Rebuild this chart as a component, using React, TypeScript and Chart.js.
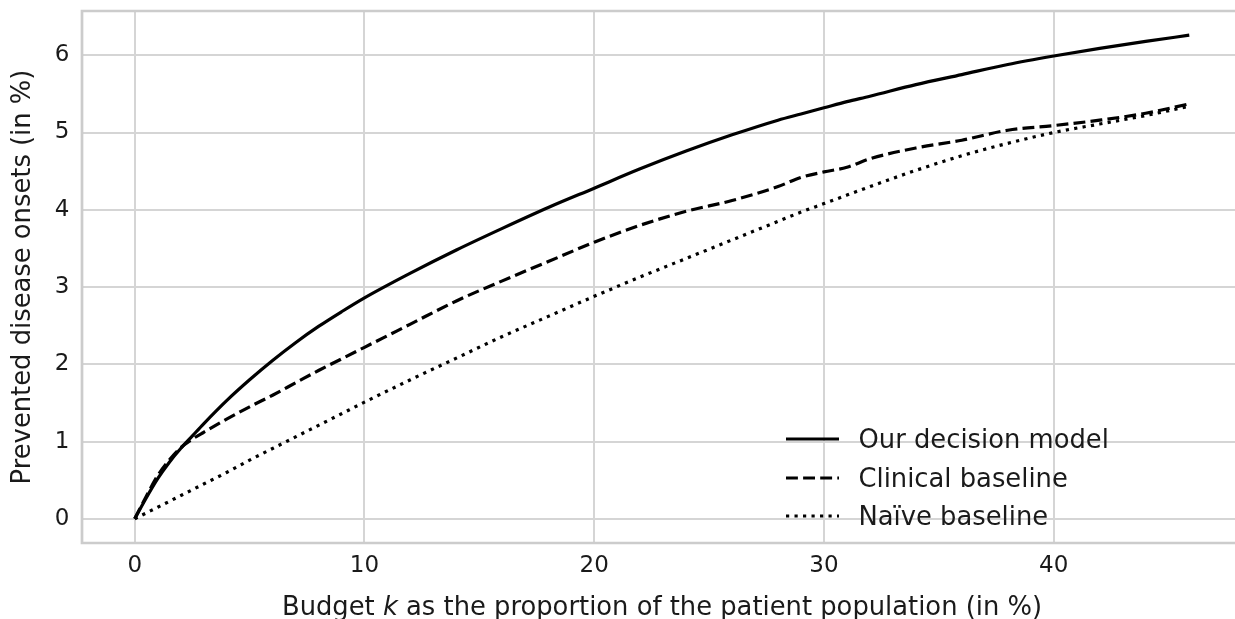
import React, { useEffect, useRef } from 'react';
import { Chart, registerables } from 'chart.js';

Chart.register(...registerables);

// ---- data ----
const budget = [0, 0.5, 1, 1.5, 2, 2.5, 3, 4, 5, 6, 7, 8, 9, 10, 12, 14, 16, 18, 20, 22, 24, 26, 28, 29, 30, 31, 32, 34, 36, 38, 40, 42, 44, 45.9];
const ourModel = [0, 0.27, 0.52, 0.73, 0.91, 1.07, 1.23, 1.53, 1.80, 2.05, 2.28, 2.49, 2.68, 2.86, 3.18, 3.48, 3.76, 4.03, 4.28, 4.53, 4.76, 4.97, 5.16, 5.24, 5.32, 5.40, 5.47, 5.62, 5.75, 5.88, 5.99, 6.09, 6.18, 6.26];
const clinical = [0, 0.29, 0.56, 0.76, 0.92, 1.03, 1.12, 1.29, 1.45, 1.60, 1.76, 1.92, 2.07, 2.22, 2.52, 2.82, 3.08, 3.33, 3.58, 3.80, 3.98, 4.12, 4.30, 4.42, 4.49, 4.55, 4.66, 4.80, 4.90, 5.03, 5.09, 5.16, 5.25, 5.37];
const naive = [0, 0.075, 0.15, 0.225, 0.30, 0.375, 0.45, 0.60, 0.76, 0.91, 1.06, 1.21, 1.36, 1.51, 1.80, 2.08, 2.36, 2.62, 2.88, 3.13, 3.37, 3.61, 3.85, 3.97, 4.08, 4.19, 4.30, 4.51, 4.70, 4.86, 5.00, 5.11, 5.22, 5.34];
const seriesLabels = ['Our decision model', 'Clinical baseline', 'Naïve baseline'];
const xTicks = [0, 10, 20, 30, 40];
const yTicks = [0, 1, 2, 3, 4, 5, 6];
const xTitleParts = ['Budget ', 'k', ' as the proportion of the patient population (in %)'];
const yTitle = 'Prevented disease onsets (in %)';

const FONT = 'DejaVu Sans';
const TEXT = '#1a1a1a';
const LINE = '#000000';
const DASHES = [[], [11.9, 5.2], [3.2, 5.3]];
const LW = 3.2;
const LABEL_FS = 25.8;
const TICK_FS = 23;

export default function App() {
  const ref = useRef<HTMLCanvasElement>(null);

  useEffect(() => {
    const canvas = ref.current;
    if (!canvas) return;

    const pts = (ys: number[]) => budget.map((x, i) => ({ x, y: ys[i] }));
    const all = [ourModel, clinical, naive];

    const xMaxData = Math.max(...budget);
    const yMaxData = Math.max(...ourModel, ...clinical, ...naive);
    const xPad = xMaxData * 0.05;
    const yPad = yMaxData * 0.05;

    const decor = {
      id: 'decor',
      beforeDatasetsDraw(chart: any) {
        const { ctx, chartArea: a } = chart;
        ctx.save();
        ctx.strokeStyle = '#cccccc';
        ctx.lineWidth = 2.7;
        ctx.beginPath();
        ctx.moveTo(a.right + 5, a.top);
        ctx.lineTo(a.left, a.top);
        ctx.lineTo(a.left, a.bottom);
        ctx.lineTo(a.right + 5, a.bottom);
        ctx.stroke();
        ctx.restore();
      },
      afterDatasetsDraw(chart: any) {
        const { ctx, chartArea: a } = chart;
        ctx.save();
        // legend
        const fs = LABEL_FS;
        ctx.font = `${fs}px "${FONT}"`;
        ctx.fillStyle = TEXT;
        ctx.textBaseline = 'alphabetic';
        ctx.textAlign = 'left';
        const lx0 = a.left + 704;
        const lx1 = lx0 + 53;
        const tx = a.left + 776.5;
        const rowY = [a.bottom - 104, a.bottom - 65, a.bottom - 27];
        seriesLabels.forEach((lab, i) => {
          const y = rowY[i];
          ctx.save();
          ctx.strokeStyle = LINE;
          ctx.lineWidth = LW;
          ctx.lineCap = 'butt';
          ctx.setLineDash(DASHES[i]);
          ctx.beginPath();
          ctx.moveTo(lx0, y);
          ctx.lineTo(lx1, y);
          ctx.stroke();
          ctx.restore();
          ctx.fillText(lab, tx, y + 8.5);
        });
        // x title with italic k
        const fNormal = `${fs}px "${FONT}"`;
        const fItalic = `italic ${fs}px "${FONT}"`;
        const widths = xTitleParts.map((p, i) => {
          ctx.font = i === 1 ? fItalic : fNormal;
          return ctx.measureText(p).width;
        });
        const total = widths.reduce((s, w) => s + w, 0);
        let x = (a.left + a.right) / 2 - total / 2;
        const by = 615;
        xTitleParts.forEach((p, i) => {
          ctx.font = i === 1 ? fItalic : fNormal;
          ctx.fillText(p, x, by);
          x += widths[i];
        });
        ctx.restore();
      },
    };

    const chart = new Chart(canvas, {
      type: 'line',
      data: {
        datasets: all.map((ys, i) => ({
          label: seriesLabels[i],
          data: pts(ys),
          borderColor: LINE,
          backgroundColor: LINE,
          borderWidth: LW,
          borderDash: DASHES[i],
          borderCapStyle: 'butt',
          pointRadius: 0,
          cubicInterpolationMode: 'monotone',
          fill: false,
        })),
      },
      options: {
        animation: false,
        responsive: false,
        devicePixelRatio: 1,
        layout: { padding: { top: 11, right: 18, left: 0, bottom: 0 } },
        plugins: { legend: { display: false }, tooltip: { enabled: false } },
        scales: {
          x: {
            type: 'linear',
            min: -xPad,
            max: xMaxData + xPad,
            afterBuildTicks: (s: any) => { s.ticks = xTicks.map((v) => ({ value: v })); },
            afterFit: (s: any) => { s.height = 76; s.paddingLeft = 0; s.paddingRight = 0; s.paddingTop = 0; s.paddingBottom = 0; },
            grid: { color: '#d5d5d5', lineWidth: 2, drawTicks: false },
            border: { display: false },
            ticks: { padding: 9, color: TEXT, font: { family: FONT, size: TICK_FS }, maxRotation: 0, autoSkip: false },
          },
          y: {
            type: 'linear',
            min: -yPad,
            max: yMaxData + yPad,
            afterBuildTicks: (s: any) => { s.ticks = yTicks.map((v) => ({ value: v })); },
            afterFit: (s: any) => { s.width = 82; s.paddingLeft = 0; s.paddingRight = 0; s.paddingTop = 0; s.paddingBottom = 0; },
            grid: { color: '#d5d5d5', lineWidth: 2, drawTicks: false },
            border: { display: false },
            ticks: { padding: 12.5, color: TEXT, font: { family: FONT, size: TICK_FS }, autoSkip: false },
            title: { display: true, text: yTitle, color: TEXT, font: { family: FONT, size: LABEL_FS }, padding: { top: 7.5, bottom: 0 } },
          },
        },
      },
      plugins: [decor],
    } as any);

    return () => chart.destroy();
  }, []);

  return (
    <div style={{ position: 'fixed', left: 0, top: 0, width: 1235, height: 619, overflow: 'hidden', background: '#ffffff' }}>
      <canvas ref={ref} width={1260} height={619} style={{ display: 'block', width: 1260, height: 619 }} />
    </div>
  );
}
